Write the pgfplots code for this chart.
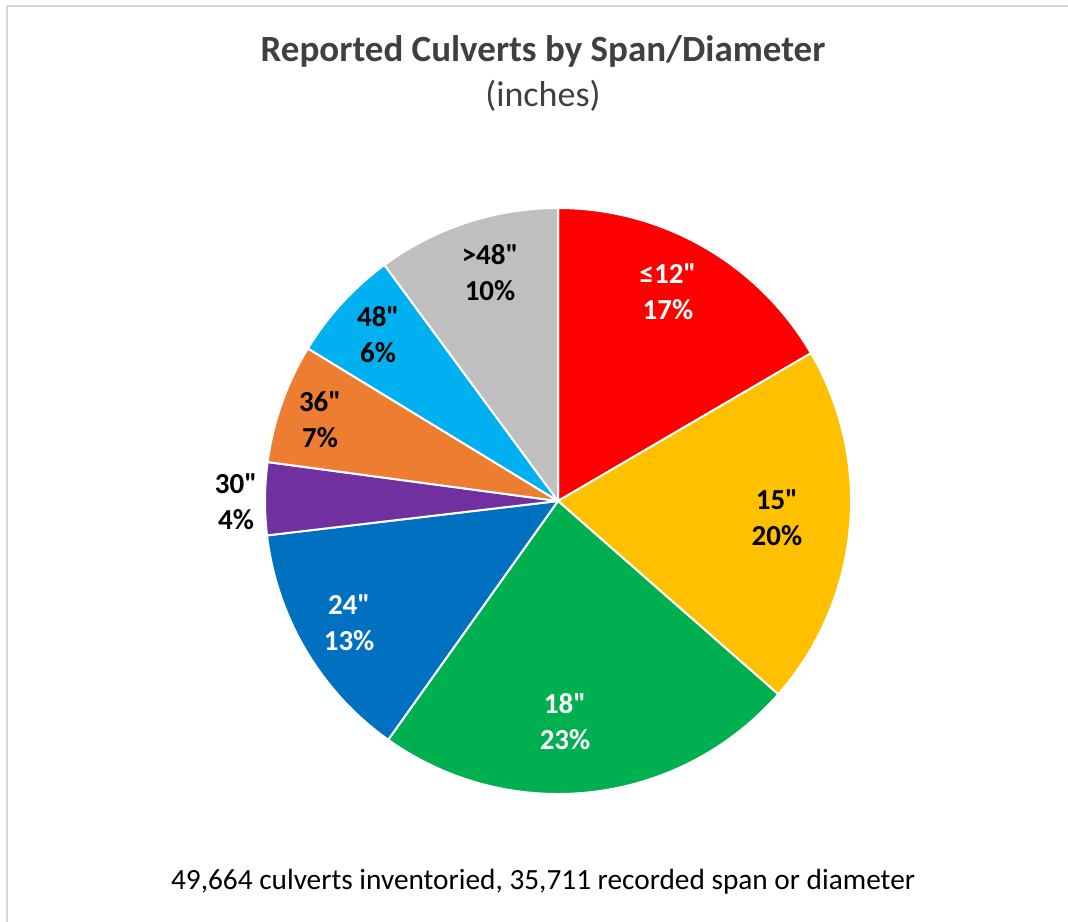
\documentclass[border=0pt]{standalone}
\usepackage{pgfplots}
\pgfplotsset{compat=1.18}
\usepackage{fontspec}
\defaultfontfeatures[\rmfamily,\sffamily]{}
\setmainfont{Carlito}
\definecolor{pRed}{HTML}{FF0000}
\definecolor{pYel}{HTML}{FFC000}
\definecolor{pGrn}{HTML}{00B050}
\definecolor{pBlu}{HTML}{0070C0}
\definecolor{pPur}{HTML}{7030A0}
\definecolor{pOra}{HTML}{ED7D31}
\definecolor{pLbl}{HTML}{00B0F0}
\definecolor{pGry}{HTML}{BFBFBF}
\definecolor{frameGry}{HTML}{D9D9D9}
\definecolor{txt}{HTML}{404040}
\newcommand\qq{\symbol{"22}}
% share of each size class (percent)
\def\piedata{16.6/pRed, 19.9/pYel, 23.4/pGrn, 13.3/pBlu, 4.0/pPur, 6.6/pOra, 6.2/pLbl, 10.1/pGry}
\def\pietotal{100.1}
\begin{document}
\begin{tikzpicture}[x=1bp,y=1bp]
\path[use as bounding box] (0,0) rectangle (1068,-922);
\draw[frameGry, line width=2.5bp] (7,-922) -- (7,-6) -- (1068,-6);
\node[font=\bfseries\fontsize{37bp}{42bp}\selectfont, text=txt, anchor=base] at (543,-61) {Reported Culverts by Span/Diameter};
\node[font=\fontsize{36bp}{40bp}\selectfont, text=txt, anchor=base] at (543,-106) {(inches)};
\node[font=\fontsize{29.3bp}{34bp}\selectfont, text=black, anchor=base] at (543,-889) {49,664 culverts inventoried, 35,711 recorded span or diameter};
\begin{axis}[hide axis, x=293bp, y=293bp, xmin=-1.2, xmax=1.2, ymin=-1.2, ymax=1.2,
  at={(558bp,-501bp)}, anchor=center, clip=false]
\xdef\cum{90}
\foreach \v/\c in \piedata {
  \pgfmathsetmacro{\a}{\cum}
  \pgfmathsetmacro{\b}{\cum-360*\v/\pietotal}
  \pgfmathsetmacro{\xs}{cos(\a)}
  \pgfmathsetmacro{\ys}{sin(\a)}
  \edef\doslice{\noexpand\addplot[fill=\c, draw=white, line width=2bp, line join=round]
    coordinates {(0,0) (\xs,\ys)} arc[start angle=\a, end angle=\b, radius=293bp] -- cycle;}
  \doslice
  \xdef\cum{\b}
}
\tikzset{lab/.style={font=\bfseries\fontsize{29bp}{36bp}\selectfont, align=center}}
\node[lab, text=white] at (axis cs:0.375,0.713) {≤12\qq\\17\%};
\node[lab, text=black] at (axis cs:0.747,-0.058) {15\qq\\20\%};
\node[lab, text=white] at (axis cs:0.024,-0.754) {18\qq\\23\%};
\node[lab, text=white] at (axis cs:-0.713,-0.416) {24\qq\\13\%};
\node[lab, text=black] at (axis cs:-1.099,-0.003) {30\qq\\4\%};
\node[lab, text=black] at (axis cs:-0.812,0.276) {36\qq\\7\%};
\node[lab, text=black] at (axis cs:-0.614,0.567) {48\qq\\6\%};
\node[lab, text=black] at (axis cs:-0.232,0.778) {>48\qq\\10\%};
\end{axis}
\end{tikzpicture}
\end{document}
